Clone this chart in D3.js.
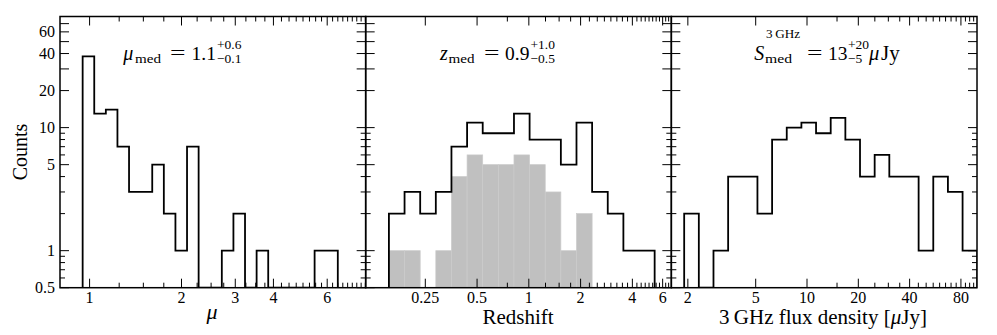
<!DOCTYPE html>
<html><head><meta charset="utf-8">
<script src="https://cdn.jsdelivr.net/npm/d3@7"></script>
<style>body{margin:0;background:#fff} svg{display:block}</style>
</head><body><svg id="c" width="997" height="335"></svg>
<script>
// ---------------- data ----------------
const muCounts = [38,13,14,7,3,3,5,2,1,7,0,0,1,2,0,1,0,0,0,0,1,1];
const muBinRange = [0.949, 6.50];
const zAllCounts  = [2,3,2,3,7,11,9,9,13,8,8,5,11,3,2,1,1];
const zSpecCounts = [1,1,0,1,4,6,5,5,6,5,3,1,2,0,0,0,0];
const zBinRange = [0.1536, 5.39];
const sCounts = [2,0,1,4,4,2,8,10,11,9,12,8,4,6,4,4,1,4,3,1];
const sBinRange = [1.903, 99.7];
const yTickLabels = [0.5, 1, 5, 10, 20, 40, 60];
const muTicks = [1, 2, 3, 4, 6];
const zTicks = [0.25, 0.5, 1, 2, 4, 6];
const sTicks = [2, 5, 10, 20, 40, 80];
const muTickLabels = ["1","2","3","4","6"];
const zTickLabels = ["0.25","0.5","1","2","4","6"];
const sTickLabels = ["2","5","10","20","40","80"];

// ---------------- layout ----------------
const FONT = "Liberation Serif, DejaVu Serif, serif";
const yTop = 16.5, yBot = 287.7, x0 = 60, pw = 305.67;
const svg = d3.select("#c");
const y = d3.scaleLog().domain([0.5, 80]).range([yBot, yTop]);

const panels = [
  {domain:[0.80, 8.02], ticks: muTicks, labels: muTickLabels, minorStep: 0.25,
   binRange: muBinRange, series: [{counts: muCounts, type:"step"}]},
  {domain:[0.1125, 6.74], ticks: zTicks, labels: zTickLabels, minorStep: 0.25,
   binRange: zBinRange, series: [{counts: zSpecCounts, type:"fill"}, {counts: zAllCounts, type:"step"}]},
  {domain:[1.60, 99.4], ticks: sTicks, labels: sTickLabels, minorStep: 5,
   binRange: sBinRange, series: [{counts: sCounts, type:"step"}]}
];

function logEdges(r, n) {
  return d3.range(n + 1).map(i => r[0] * Math.pow(r[1] / r[0], i / n));
}

panels.forEach((p, pi) => {
  const left = x0 + pi * pw, right = left + pw;
  const x = d3.scaleLog().domain(p.domain).range([left, right]);
  const g = svg.append("g");
  const clipId = "clip" + pi;
  svg.append("clipPath").attr("id", clipId).append("rect")
    .attr("x", left).attr("y", yTop).attr("width", pw).attr("height", yBot - yTop);
  const dg = g.append("g").attr("clip-path", `url(#${clipId})`);

  p.series.forEach(s => {
    const edges = logEdges(p.binRange, s.counts.length);
    if (s.type === "fill") {
      dg.selectAll(null).data(s.counts.map((c, i) => ({c, a: edges[i], b: edges[i+1]})).filter(d => d.c > 0))
        .join("rect")
        .attr("x", d => x(d.a)).attr("width", d => x(d.b) - x(d.a))
        .attr("y", d => y(d.c)).attr("height", d => yBot - y(d.c))
        .attr("fill", "#c0c0c0").attr("stroke", "#cbcbcb").attr("stroke-width", 0.7);
    } else {
      const pts = [[edges[0], 0.5]];
      s.counts.forEach((c, i) => {
        const v = c > 0 ? c : 0.5;
        pts.push([edges[i], v]); pts.push([edges[i+1], v]);
      });
      pts.push([edges[edges.length - 1], 0.5]);
      dg.append("path")
        .attr("d", d3.line().x(d => x(d[0])).y(d => y(d[1]))(pts))
        .attr("fill", "none").attr("stroke", "#000").attr("stroke-width", 1.8)
        .attr("stroke-linejoin", "miter");
    }
  });

  // x ticks
  const minors = [];
  for (let k = Math.ceil(p.domain[0] / p.minorStep); k * p.minorStep <= p.domain[1]; k++) {
    const v = k * p.minorStep;
    if (!p.ticks.some(t => Math.abs(t - v) < 1e-9)) minors.push(v);
  }
  const tg = g.append("g").attr("stroke", "#000").attr("stroke-width", 1);
  p.ticks.forEach(t => {
    tg.append("line").attr("x1", x(t)).attr("x2", x(t)).attr("y1", yBot).attr("y2", yBot - 9);
    tg.append("line").attr("x1", x(t)).attr("x2", x(t)).attr("y1", yTop).attr("y2", yTop + 9);
  });
  minors.forEach(t => {
    tg.append("line").attr("x1", x(t)).attr("x2", x(t)).attr("y1", yBot).attr("y2", yBot - 5);
    tg.append("line").attr("x1", x(t)).attr("x2", x(t)).attr("y1", yTop).attr("y2", yTop + 5);
  });
  p.ticks.forEach((t, i) => {
    g.append("text").attr("x", x(t)).attr("y", 303).attr("text-anchor", "middle")
      .attr("font-family", FONT).attr("font-size", 16).text(p.labels[i]);
  });

  // y ticks (both sides)
  const longY = [0.5, 1, 5, 10, 20, 30, 40, 50, 60, 70];
  y.ticks().forEach(t => {
    const L = longY.some(v => Math.abs(v - t) < 1e-9) ? 9 : 5;
    tg.append("line").attr("x1", left).attr("x2", left + L).attr("y1", y(t)).attr("y2", y(t));
    tg.append("line").attr("x1", right).attr("x2", right - L).attr("y1", y(t)).attr("y2", y(t));
  });

  // frame
  g.append("rect").attr("x", left).attr("y", yTop).attr("width", pw).attr("height", yBot - yTop)
    .attr("fill", "none").attr("stroke", "#000").attr("stroke-width", 1.5);
});

// y tick labels (left panel only)
yTickLabels.forEach(t => {
  svg.append("text").attr("x", 55).attr("y", y(t) + 5.5).attr("text-anchor", "end")
    .attr("font-family", FONT).attr("font-size", 16).text(t);
});

// axis titles
svg.append("text").attr("transform", "translate(27,152) rotate(-90)").attr("text-anchor", "middle")
  .attr("font-family", FONT).attr("font-size", 20).text("Counts");
svg.append("text").attr("x", 212).attr("y", 319).attr("text-anchor", "middle")
  .attr("font-family", FONT).attr("font-size", 22).attr("font-style", "italic").text("μ");
svg.append("text").attr("x", 518).attr("y", 324).attr("text-anchor", "middle")
  .attr("font-family", FONT).attr("font-size", 21).text("Redshift");
const xl = svg.append("text").attr("x", 823).attr("y", 324).attr("text-anchor", "middle")
  .attr("font-family", FONT).attr("font-size", 21);
xl.append("tspan").text("3\u2009GHz flux density [");
xl.append("tspan").attr("font-style", "italic").text("μ");
xl.append("tspan").text("Jy]");

// math annotations: each piece placed at its own x
function piece(x, yb, txt, fs, opts = {}) {
  const t = svg.append("text").attr("x", x).attr("y", yb).attr("font-family", FONT)
    .attr("font-size", fs).attr("font-style", opts.it ? "italic" : "normal").text(txt);
  if (opts.len) t.attr("textLength", opts.len).attr("lengthAdjust", "spacingAndGlyphs");
  return t;
}
const BL = 59.5, SUP = 48.5, SUB = 63;
// left
piece(123.3, BL, "μ", 20, {it: true});
piece(135, SUB, "med", 13.5, {len: 26});
piece(170, BL - 0.5, "=", 19, {len: 15.5});
piece(191.5, BL, "1.1", 19.5);
piece(217, SUP, "+0.6", 13.5);
piece(217, SUB, "−0.1", 13.5);
// middle
piece(440, BL, "z", 20, {it: true});
piece(448.5, SUB, "med", 13.5, {len: 26});
piece(484, BL - 0.5, "=", 19, {len: 15.5});
piece(505, BL, "0.9", 19.5);
piece(530.5, SUP, "+1.0", 13.5);
piece(530.5, SUB, "−0.5", 13.5);
// right
piece(754.3, BL, "S", 20, {it: true});
piece(766, 38, "3\u2009GHz", 13.5, {len: 34});
piece(765, SUB, "med", 13.5, {len: 27});
piece(807, BL - 0.5, "=", 19, {len: 15.5});
piece(828, BL, "13", 19.5);
piece(848, SUP, "+20", 13.5);
piece(848, SUB, "−5", 13.5);
piece(869, BL, "μ", 20.5, {it: true});
piece(881, BL, "Jy", 21);
</script></body></html>
